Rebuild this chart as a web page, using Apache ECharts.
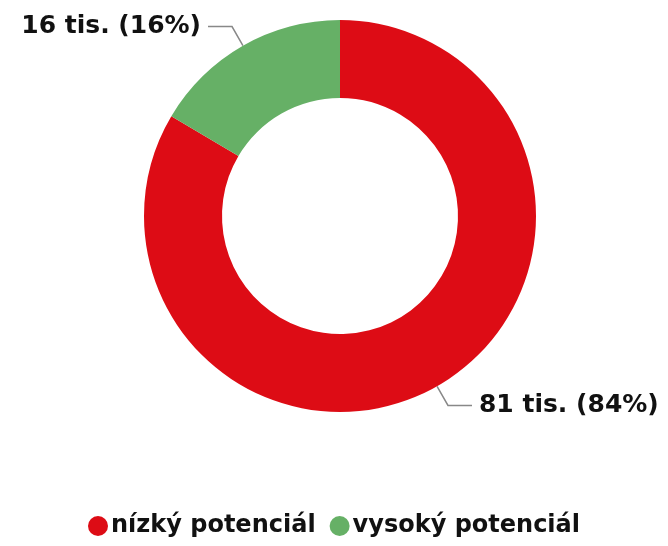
<!DOCTYPE html>
<html><head><meta charset="utf-8">
<script src="https://cdn.jsdelivr.net/npm/echarts@6/dist/echarts.min.js"></script>
<style>html,body{margin:0;padding:0;background:#fff}#c{width:668px;height:546px}</style>
</head><body><div id="c"></div>
<script>
var categories = ['nízký potenciál', 'vysoký potenciál'];
var values = [81, 16];
var valueLabels = ['81 tis.', '16 tis.'];
var percentLabels = ['84%', '16%'];
var colors = ['#dd0c15', '#66b066'];

var chart = echarts.init(document.getElementById('c'));
var font = '"DejaVu Sans", sans-serif';
chart.setOption({
  animation: false,
  color: colors,
  legend: {
    bottom: 3, left: 'center',
    icon: 'circle', itemWidth: 20, itemHeight: 20, itemGap: 14,
    textStyle: { fontFamily: font, fontWeight: 'bold', fontSize: 24, color: '#111', padding: [0, 0, 0, -2] },
    data: categories
  },
  series: [{
    type: 'pie',
    center: [340, 216],
    radius: [118, 196],
    startAngle: 90,
    clockwise: true,
    data: categories.map(function (n, i) {
      return { name: n, value: values[i], itemStyle: { color: colors[i] } };
    }),
    label: {
      show: true,
      overflow: 'none',
      fontFamily: font, fontWeight: 'bold', fontSize: 25, color: '#111',
      distanceToLabelLine: 7,
      formatter: function (p) {
        return valueLabels[p.dataIndex] + ' (' + percentLabels[p.dataIndex] + ')';
      }
    },
    labelLine: { show: true, length: 22, length2: 24, lineStyle: { color: '#888', width: 1.5 } },
    emphasis: { disabled: true }
  }]
});
</script></body></html>
